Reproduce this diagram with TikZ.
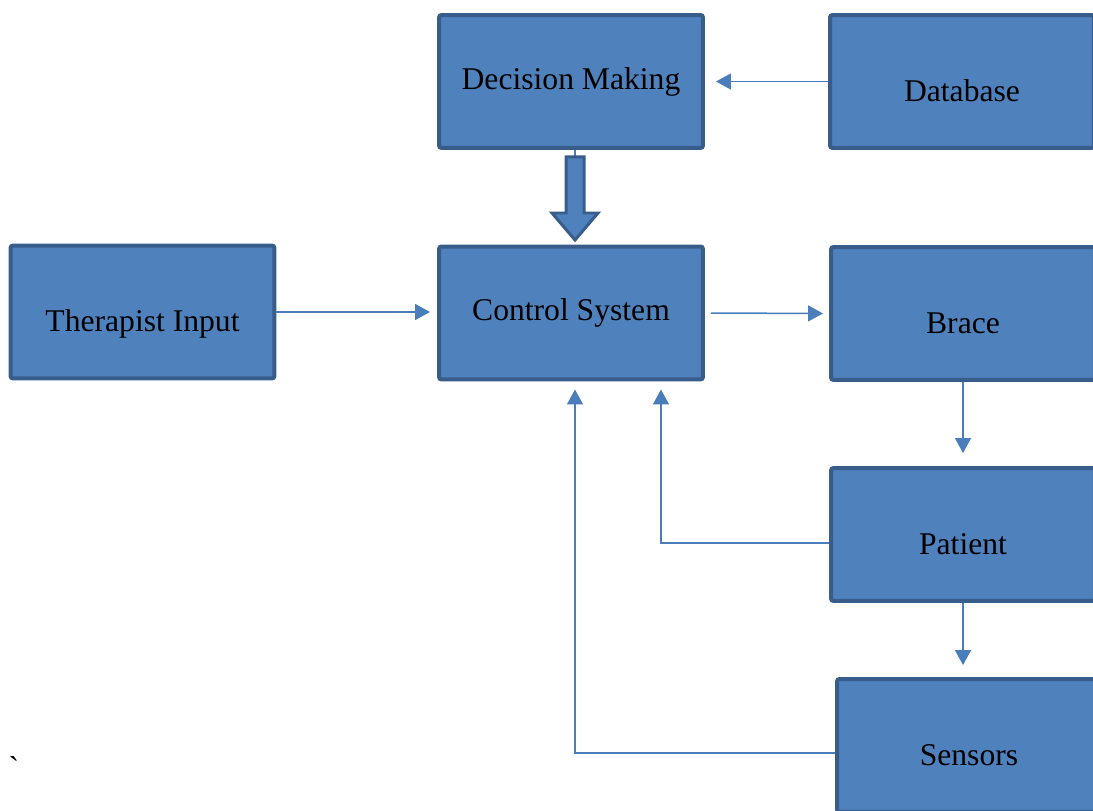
\documentclass[tikz,border=0pt]{standalone}
\usepackage{fontspec}
\setmainfont{Liberation Serif}
\newfontfamily\plainserif{Liberation Serif}[Ligatures=TeXOff]
\usetikzlibrary{arrows.meta}
\definecolor{BoxBlue}{HTML}{4F81BD}
\definecolor{BoxEdge}{HTML}{385D8A}
\definecolor{LinkBlue}{HTML}{4A7EBB}

\begin{document}
\begin{tikzpicture}[x=0.02cm,y=-0.02cm,
	block/.style={draw=BoxEdge,fill=BoxBlue,line width=0.08cm,rounded corners=0.05cm,
		minimum width=5.28cm,minimum height=2.66cm,inner sep=0pt,
		font=\fontsize{18}{22}\selectfont},
	lowtext/.style={text height=22.5pt,text depth=0pt},
	link/.style={draw=LinkBlue,line width=0.03cm,-{Triangle[length=0.3cm,width=0.32cm]}},
	bigarrow/.style={draw=BoxEdge,fill=BoxBlue,line width=0.06cm,line join=miter}]
	\clip (0,0) rectangle (1093,811);
	
	% boxes
	\node[block] (decision) at (571,81.5) {Decision Making};
	\node[block,lowtext] (database) at (962,81.5) {Database};
	\node[block,lowtext] (therapist) at (142.5,312) {Therapist Input};
	\node[block] (control) at (571,313) {Control System};
	\node[block,lowtext] (brace) at (963,313.5) {Brace};
	\node[block,lowtext] (patient) at (963,534.5) {Patient};
	\node[block,lowtext] (sensors) at (969,745.5) {Sensors};
	
	\node[font=\plainserif\fontsize{18}{22}\selectfont,inner sep=0pt] (tick) at (14,768) {`};
	
	% connectors
	\draw[link,shorten >=0.22cm] (database.west) -- (decision.east);
	\draw[link,shorten >=0.14cm] (therapist.east) -- (therapist.east -| control.west);
	\draw[link,shorten <=0.12cm,shorten >=0.12cm] (control.east) -- (brace.west);
	\draw[link,shorten >=0.26cm] (brace.south) -- (patient.north);
	\draw[link,shorten >=0.24cm] (patient.south) -- (patient.south |- sensors.north);
	\draw[link,shorten >=0.16cm] ([yshift=-0.17cm]patient.west) -| ([xshift=1.8cm]control.south);
	\draw[link,shorten >=0.16cm] ([yshift=-0.15cm]sensors.west) -| ([xshift=0.08cm]control.south);
	
	% block arrow from decision making to control
	\draw[draw=LinkBlue,line width=0.03cm] (575,150) -- (575,157);
	\draw[bigarrow] (566,157) -- (584,157) -- (584,213) -- (598,213) -- (575,240)
		-- (552,213) -- (566,213) -- cycle;
\end{tikzpicture}
\end{document}
